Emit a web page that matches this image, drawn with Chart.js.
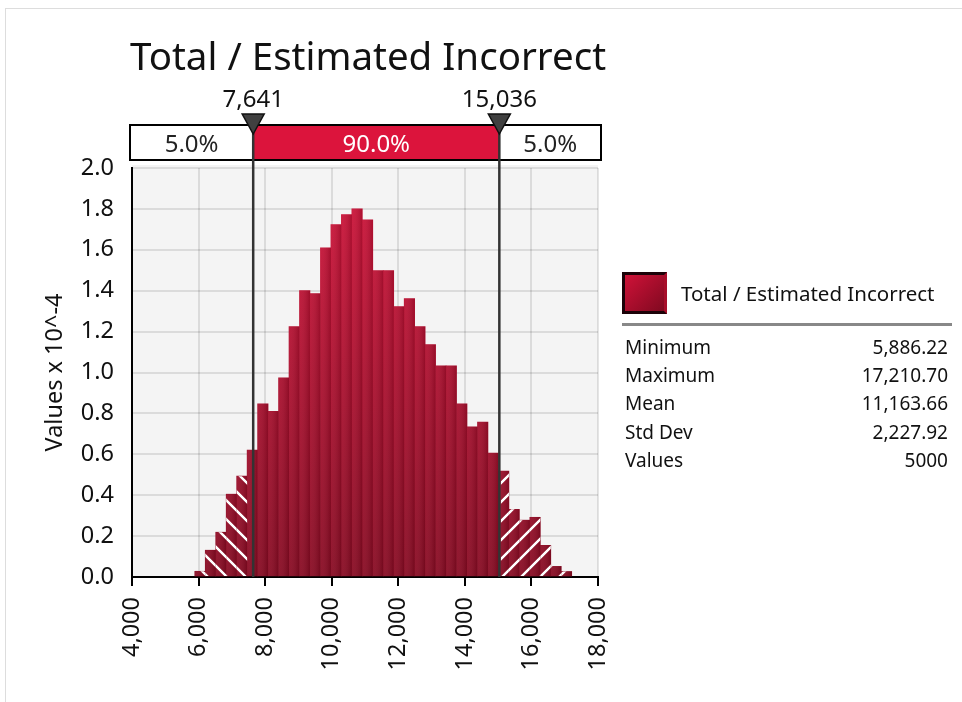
<!DOCTYPE html>
<html>
<head>
<meta charset="utf-8">
<script src="https://cdn.jsdelivr.net/npm/chart.js@4"></script>
<style>
  body { margin: 0; background: #fff; font-family: 'Noto Sans', sans-serif; color: #111; }
  #wrap { position: relative; width: 962px; height: 702px; overflow: hidden; }
  #frame { position: absolute; left: 5px; top: 8px; width: 980px; height: 720px; border-left: 1px solid #ddd; border-top: 1px solid #ddd; }
  canvas { position: absolute; left: 0; top: 0; }
  #title { position: absolute; left: 126px; width: 484px; top: 29px; text-align: center; font-size: 38.5px; white-space: nowrap; }
  #swatch { position: absolute; left: 622px; top: 272px; width: 39px; height: 36px; border: 3px solid #1c0208; border-right-color: #a80d2a;
            background: linear-gradient(135deg, #cf1238, #800920); }
  #legendText { position: absolute; left: 681px; top: 279px; font-size: 20.5px; line-height: 28px; white-space: nowrap; }
  #rule { position: absolute; left: 622px; top: 323px; width: 330px; height: 3px; background: #888; }
  #stats { position: absolute; left: 625px; top: 333px; width: 323px; font-size: 19px; }
  #stats div { display: flex; justify-content: space-between; height: 28.2px; line-height: 28px; }
</style>
</head>
<body>
<div id="wrap">
  <div id="frame"></div>
  <canvas id="chart" width="962" height="702"></canvas>
  <div id="title">Total / Estimated Incorrect</div>
  <div id="swatch"></div>
  <div id="legendText">Total / Estimated Incorrect</div>
  <div id="rule"></div>
  <div id="stats"></div>
</div>
<script>
// histogram heights (Values x 10^-4), 36 bins from Minimum to Maximum
const density = [0.028, 0.131, 0.219, 0.405, 0.493, 0.621, 0.847, 0.81, 0.974, 1.224,
                 1.40, 1.386, 1.61, 1.723, 1.772, 1.80, 1.747, 1.498, 1.498, 1.322,
                 1.361, 1.224, 1.136, 1.033, 1.033, 0.847, 0.734, 0.758, 0.606, 0.518,
                 0.331, 0.278, 0.292, 0.155, 0.052, 0.027];
const statNames = ['Minimum', 'Maximum', 'Mean', 'Std Dev', 'Values'];
const statValues = ['5,886.22', '17,210.70', '11,163.66', '2,227.92', '5000'];
const minimum = 5886.22;
const maximum = 17210.70;
const cutoffs = [7641, 15036];
const cutoffLabels = ['7,641', '15,036'];
const shareLabels = ['5.0%', '90.0%', '5.0%'];
const xTicks = [4000, 6000, 8000, 10000, 12000, 14000, 16000, 18000];
const yTicks = [0, 0.2, 0.4, 0.6, 0.8, 1.0, 1.2, 1.4, 1.6, 1.8, 2.0];

const binWidth = (maximum - minimum) / density.length;
const points = density.map((v, i) => ({ x: minimum + (i + 0.5) * binWidth, y: v }));

document.getElementById('stats').innerHTML = statNames
  .map((n, i) => `<div><span>${n}</span><span>${statValues[i]}</span></div>`).join('');

const FONT = 'Noto Sans';
const tickFont = { family: FONT, size: 23.5 };
const crimson = '#dc143c';

const barFill = (context) => {
  const { ctx, chartArea } = context.chart;
  if (!chartArea) return '#b00e2c';
  const g = ctx.createLinearGradient(0, chartArea.top, 0, chartArea.bottom);
  g.addColorStop(0, '#d2133a');
  g.addColorStop(1, '#880a22');
  return g;
};

const plotBg = {
  id: 'plotBg',
  beforeDraw(chart) {
    const { ctx, chartArea: a } = chart;
    ctx.save();
    ctx.fillStyle = '#f4f4f4';
    ctx.fillRect(a.left, a.top - 3, a.right - a.left, a.bottom - a.top + 3);
    ctx.restore();
  }
};

// per-bar shading and hatching of the two 5% tails
const barDecor = {
  id: 'barDecor',
  afterDatasetsDraw(chart) {
    const { ctx, chartArea: a, scales } = chart;
    const pHi = scales.x.getPixelForValue(cutoffs[1]);
    const H = a.bottom - a.top;
    chart.getDatasetMeta(0).data.forEach((bar, i) => {
      const { x, y, base, width } = bar.getProps(['x', 'y', 'base', 'width'], true);
      const l = x - width / 2, r = x + width / 2;
      ctx.save();
      const g = ctx.createLinearGradient(l, 0, r, 0);
      g.addColorStop(0, 'rgba(255,255,255,0.06)');
      g.addColorStop(1, 'rgba(0,0,0,0.16)');
      ctx.fillStyle = g;
      ctx.fillRect(l, y, width, base - y);
      ctx.restore();

      const binHi = minimum + (i + 1) * binWidth;
      let clipL = null, dir = 0;
      if (binHi <= cutoffs[0]) { clipL = l; dir = 1; }
      else if (binHi > cutoffs[1]) { clipL = Math.max(l, pHi + 1.5); dir = -1; }
      if (clipL === null || clipL >= r) return;
      ctx.save();
      ctx.beginPath();
      ctx.rect(clipL, y, r - clipL, base - y);
      ctx.clip();
      ctx.strokeStyle = '#fff';
      ctx.lineWidth = 2.4;
      ctx.beginPath();
      for (let k = -H; k < (a.right - a.left) + H; k += 19) {
        if (dir > 0) { ctx.moveTo(a.left + k, a.top); ctx.lineTo(a.left + k + H, a.bottom); }
        else { ctx.moveTo(a.left + k, a.bottom); ctx.lineTo(a.left + k + H, a.top); }
      }
      ctx.stroke();
      ctx.restore();
    });
  }
};

// percentile band above the plot, with markers and the two cut lines
const percentileBar = {
  id: 'percentileBar',
  afterDraw(chart) {
    const { ctx, chartArea: a, scales } = chart;
    const pLo = scales.x.getPixelForValue(cutoffs[0]);
    const pHi = scales.x.getPixelForValue(cutoffs[1]);
    const L = a.left - 2, R = a.right + 3, T = 125, B = 160;
    ctx.save();
    ctx.fillStyle = '#fff';
    ctx.fillRect(L, T, R - L, B - T);
    ctx.fillStyle = crimson;
    ctx.fillRect(pLo, T, pHi - pLo, B - T);
    ctx.strokeStyle = '#000';
    ctx.lineWidth = 2;
    ctx.strokeRect(L, T, R - L, B - T);

    ctx.strokeStyle = '#333';
    ctx.lineWidth = 2.5;
    [pLo, pHi].forEach(p => {
      ctx.beginPath();
      ctx.moveTo(p, T);
      ctx.lineTo(p, a.bottom);
      ctx.stroke();
    });

    ctx.font = `24px '${FONT}'`;
    ctx.textAlign = 'center';
    ctx.textBaseline = 'alphabetic';
    ctx.fillStyle = '#222';
    ctx.fillText(shareLabels[0], (L + pLo) / 2, 152);
    ctx.fillText(shareLabels[2], (pHi + R) / 2, 152);
    ctx.fillStyle = '#fff';
    ctx.fillText(shareLabels[1], (pLo + pHi) / 2, 152);

    [pLo, pHi].forEach((p, i) => {
      ctx.beginPath();
      ctx.moveTo(p - 11, 114);
      ctx.lineTo(p + 11, 114);
      ctx.lineTo(p, 134);
      ctx.closePath();
      ctx.fillStyle = '#404040';
      ctx.fill();
      ctx.strokeStyle = '#111';
      ctx.lineWidth = 1.5;
      ctx.stroke();
      ctx.fillStyle = '#111';
      ctx.fillText(cutoffLabels[i], p, 107);
    });
    ctx.restore();
  }
};

new Chart(document.getElementById('chart'), {
  type: 'bar',
  data: {
    datasets: [{
      data: points,
      backgroundColor: barFill,
      borderWidth: 0,
      barPercentage: 1,
      categoryPercentage: 1,
      grouped: false
    }]
  },
  options: {
    responsive: false,
    animation: false,
    devicePixelRatio: 1,
    layout: { padding: { left: 32, top: 168, right: 364, bottom: 0 } },
    plugins: { legend: { display: false }, tooltip: { enabled: false } },
    scales: {
      x: {
        type: 'linear', min: 4000, max: 18000, offset: false, z: 1,
        afterFit: s => { s.height = 125; },
        afterBuildTicks: s => { s.ticks = xTicks.map(v => ({ value: v })); },
        ticks: {
          autoSkip: false, minRotation: 90, maxRotation: 90, padding: 11,
          color: '#111', font: tickFont,
          callback: v => v.toLocaleString('en-US')
        },
        grid: { offset: false, color: 'rgba(0,0,0,0.1)', lineWidth: 2, tickColor: '#000', tickWidth: 2, tickLength: 9 },
        border: { color: '#000', width: 2 }
      },
      y: {
        min: 0, max: 2, z: 1,
        afterFit: s => { s.width = 100; },
        afterBuildTicks: s => { s.ticks = yTicks.map(v => ({ value: v })); },
        ticks: { padding: 18, color: '#111', font: tickFont, callback: v => v.toFixed(1) },
        grid: { color: 'rgba(0,0,0,0.1)', lineWidth: 2, drawTicks: false },
        border: { color: '#000', width: 2 },
        title: { display: true, text: 'Values x 10^-4', color: '#111', font: tickFont, padding: { top: 9, bottom: 0 } }
      }
    }
  },
  plugins: [plotBg, barDecor, percentileBar]
});
</script>
</body>
</html>
